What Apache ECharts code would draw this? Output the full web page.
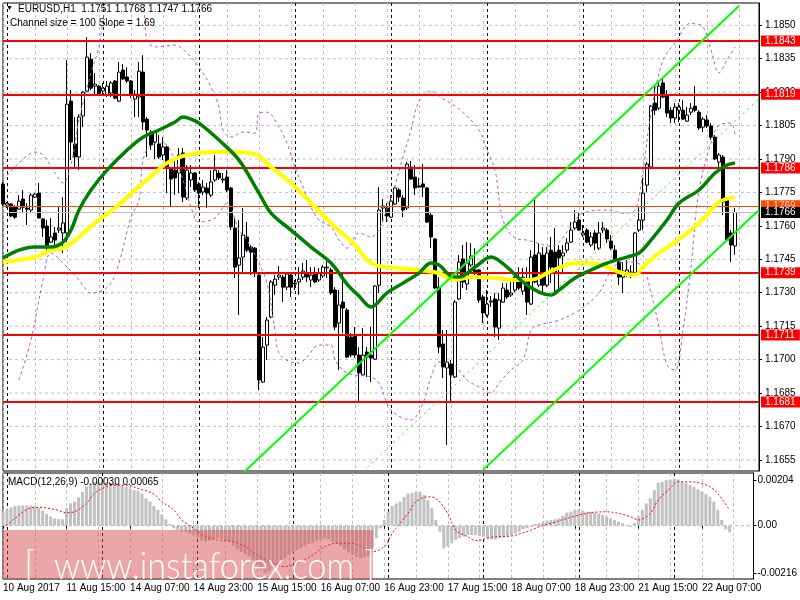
<!DOCTYPE html>
<html><head><meta charset="utf-8">
<script src="https://cdn.jsdelivr.net/npm/echarts@6/dist/echarts.min.js"></script>
<style>html,body{margin:0;padding:0;background:#fff}#c{width:800px;height:600px}</style>
</head><body><div id="c"></div>
<script>
// ---------- DATA ----------
// Hourly candles EURUSD H1, [open, close, low, high]; index 0 = 10 Aug 23:00
const candles = [
[1.17788,1.17698,1.17689,1.17797],[1.17693,1.17702,1.17680,1.17707],[1.17698,1.17644,1.17639,1.17702],[1.17684,1.17639,1.17631,1.17693],
[1.17675,1.17711,1.17671,1.17738],[1.17720,1.17684,1.17662,1.17761],[1.17680,1.17675,1.17604,1.17702],[1.17671,1.17738,1.17657,1.17747],
[1.17729,1.17743,1.17725,1.17747],[1.17747,1.17635,1.17635,1.17792],[1.17631,1.17590,1.17550,1.17635],[1.17599,1.17514,1.17491,1.17626],
[1.17527,1.17550,1.17523,1.17635],[1.17568,1.17536,1.17491,1.17595],[1.17581,1.17590,1.17568,1.17684],[1.17568,1.17613,1.17478,1.17729],
[1.17568,1.18146,1.17527,1.18344],[1.18160,1.17976,1.17895,1.18209],[1.17967,1.17909,1.17859,1.18088],[1.17909,1.18088,1.17850,1.18101],
[1.18093,1.18200,1.18043,1.18205],[1.18205,1.18357,1.18200,1.18447],[1.18348,1.18218,1.18209,1.18375],[1.18227,1.18236,1.18182,1.18286],
[1.18227,1.18187,1.18182,1.18232],[1.18205,1.18218,1.18182,1.18241],[1.18187,1.18227,1.18178,1.18250],[1.18196,1.18241,1.18178,1.18250],
[1.18250,1.18173,1.18169,1.18254],[1.18160,1.18290,1.18155,1.18335],[1.18299,1.18259,1.18254,1.18326],[1.18268,1.18250,1.18241,1.18312],
[1.18250,1.18191,1.18173,1.18254],[1.18169,1.18191,1.18088,1.18209],[1.18178,1.18294,1.18088,1.18335],[1.18290,1.18066,1.18030,1.18366],
[1.18079,1.18030,1.17909,1.18088],[1.18016,1.17963,1.17940,1.18030],[1.17976,1.18021,1.17900,1.18030],[1.17967,1.17909,1.17900,1.18007],
[1.17918,1.17954,1.17895,1.17998],[1.17954,1.17859,1.17747,1.17958],[1.17859,1.17810,1.17684,1.17864],[1.17850,1.17815,1.17738,1.17895],
[1.17837,1.17918,1.17747,1.17949],[1.17927,1.17729,1.17707,1.17949],[1.17725,1.17850,1.17716,1.17873],[1.17806,1.17837,1.17774,1.17873],
[1.17837,1.17761,1.17752,1.17841],[1.17788,1.17747,1.17680,1.17797],[1.17752,1.17774,1.17738,1.17806],[1.17770,1.17747,1.17680,1.17792],
[1.17738,1.17797,1.17729,1.17850],[1.17806,1.17850,1.17797,1.17918],[1.17837,1.17815,1.17806,1.17850],[1.17810,1.17806,1.17792,1.17837],
[1.17819,1.17761,1.17752,1.17850],[1.17770,1.17595,1.17581,1.17774],[1.17590,1.17415,1.17366,1.17635],[1.17424,1.17456,1.17200,1.17626],
[1.17460,1.17559,1.17388,1.17680],[1.17550,1.17491,1.17482,1.17617],[1.17505,1.17482,1.17379,1.17514],[1.17500,1.17388,1.17370,1.17505],
[1.17379,1.16908,1.16863,1.17388],[1.16899,1.17056,1.16895,1.17101],[1.17065,1.17177,1.16998,1.17191],[1.17191,1.17348,1.17186,1.17357],
[1.17334,1.17361,1.17290,1.17379],[1.17370,1.17379,1.17357,1.17420],[1.17370,1.17325,1.17258,1.17379],[1.17325,1.17384,1.17312,1.17388],
[1.17379,1.17325,1.17281,1.17388],[1.17343,1.17339,1.17312,1.17357],[1.17348,1.17361,1.17290,1.17415],[1.17370,1.17397,1.17357,1.17433],
[1.17388,1.17370,1.17348,1.17447],[1.17357,1.17379,1.17325,1.17415],[1.17388,1.17348,1.17343,1.17415],[1.17357,1.17388,1.17348,1.17411],
[1.17375,1.17415,1.17366,1.17424],[1.17411,1.17415,1.17366,1.17460],[1.17402,1.17299,1.17290,1.17411],[1.17312,1.17146,1.17132,1.17325],
[1.17164,1.17245,1.16953,1.17312],[1.17258,1.17231,1.17119,1.17388],[1.17222,1.17011,1.17007,1.17231],[1.17101,1.17020,1.17011,1.17119],
[1.17110,1.17020,1.17007,1.17146],[1.17020,1.16940,1.16810,1.17056],[1.16931,1.17020,1.16926,1.17141],[1.17034,1.17011,1.16922,1.17056],
[1.17020,1.17007,1.16899,1.17146],[1.17002,1.17330,1.16998,1.17334],[1.17334,1.17671,1.17299,1.17774],[1.17680,1.17689,1.17617,1.17720],
[1.17680,1.17644,1.17617,1.17702],[1.17639,1.17711,1.17635,1.17738],[1.17698,1.17770,1.17693,1.17774],[1.17761,1.17729,1.17707,1.17770],
[1.17725,1.17671,1.17639,1.17738],[1.17680,1.17877,1.17671,1.17886],[1.17864,1.17810,1.17806,1.17891],[1.17819,1.17770,1.17738,1.17873],
[1.17779,1.17774,1.17770,1.17815],[1.17788,1.17774,1.17729,1.17877],[1.17770,1.17617,1.17613,1.17774],[1.17648,1.17550,1.17500,1.17657],
[1.17541,1.17321,1.17316,1.17545],[1.17325,1.17056,1.17029,1.17370],[1.17070,1.16967,1.16917,1.17132],[1.16962,1.16989,1.16617,1.17132],
[1.16980,1.16931,1.16805,1.16998],[1.16922,1.17258,1.16917,1.17267],[1.17272,1.17438,1.17267,1.17469],[1.17451,1.17348,1.17321,1.17514],
[1.17339,1.17433,1.17312,1.17527],[1.17424,1.17465,1.17415,1.17523],[1.17402,1.17388,1.17379,1.17500],[1.17402,1.17267,1.17254,1.17406],
[1.17281,1.17209,1.17164,1.17290],[1.17200,1.17249,1.17191,1.17312],[1.17258,1.17263,1.17236,1.17285],[1.17272,1.17146,1.17101,1.17299],
[1.17141,1.17267,1.17088,1.17299],[1.17258,1.17321,1.17254,1.17343],[1.17312,1.17281,1.17272,1.17343],[1.17290,1.17299,1.17281,1.17348],
[1.17312,1.17370,1.17303,1.17393],[1.17366,1.17321,1.17312,1.17415],[1.17307,1.17370,1.17290,1.17411],[1.17357,1.17258,1.17200,1.17415],
[1.17249,1.17460,1.17245,1.17491],[1.17469,1.17348,1.17343,1.17729],[1.17334,1.17478,1.17325,1.17523],[1.17469,1.17334,1.17299,1.17505],
[1.17334,1.17478,1.17325,1.17505],[1.17491,1.17415,1.17343,1.17550],[1.17482,1.17388,1.17290,1.17590],[1.17491,1.17456,1.17312,1.17514],
[1.17465,1.17478,1.17393,1.17514],[1.17491,1.17523,1.17478,1.17545],[1.17527,1.17581,1.17523,1.17617],[1.17590,1.17617,1.17581,1.17671],
[1.17626,1.17581,1.17577,1.17657],[1.17559,1.17568,1.17550,1.17604],[1.17581,1.17527,1.17523,1.17590],[1.17514,1.17550,1.17505,1.17572],
[1.17568,1.17523,1.17491,1.17581],[1.17500,1.17568,1.17491,1.17617],[1.17581,1.17590,1.17568,1.17617],[1.17581,1.17541,1.17523,1.17590],
[1.17532,1.17500,1.17491,1.17559],[1.17491,1.17447,1.17438,1.17514],[1.17438,1.17370,1.17334,1.17456],[1.17370,1.17397,1.17299,1.17438],
[1.17379,1.17402,1.17370,1.17447],[1.17393,1.17375,1.17366,1.17424],[1.17375,1.17568,1.17370,1.17572],[1.17581,1.17626,1.17572,1.17684],
[1.17626,1.17747,1.17581,1.17815],[1.17783,1.17877,1.17752,1.17886],[1.17864,1.18137,1.17859,1.18142],[1.18151,1.18119,1.18097,1.18232],
[1.18128,1.18227,1.18119,1.18241],[1.18241,1.18178,1.18173,1.18268],[1.18187,1.18106,1.18088,1.18209],[1.18119,1.18084,1.18061,1.18133],
[1.18084,1.18133,1.18061,1.18151],[1.18119,1.18133,1.18066,1.18151],[1.18119,1.18079,1.18075,1.18164],[1.18070,1.18097,1.18066,1.18133],
[1.18110,1.18128,1.18097,1.18151],[1.18137,1.18119,1.18110,1.18227],[1.18110,1.18039,1.18030,1.18119],[1.18043,1.18079,1.18021,1.18088],
[1.18075,1.18048,1.18039,1.18097],[1.18048,1.17998,1.17985,1.18061],[1.17998,1.17900,1.17895,1.18007],[1.17886,1.17918,1.17864,1.17927],
[1.17909,1.17707,1.17648,1.17918],[1.17716,1.17536,1.17532,1.17720],[1.17568,1.17514,1.17438,1.17581],[1.1751,1.1766,1.1747,1.1768]
];
// moving averages, [barIndex, price]
const maGreen = [[0,1.17456],[4,1.17491],[8,1.17505],[12,1.17505],[15,1.17527],[17,1.17581],[19,1.17671],[22,1.17761],[26,1.17850],[31,1.17940],[35,1.17998],[39,1.18030],[43,1.18066],[45,1.18088],[47,1.18079],[49,1.18061],[54,1.17985],[59,1.17895],[64,1.17747],[67,1.17657],[72,1.17581],[77,1.17505],[82,1.17433],[86,1.17339],[89,1.17285],[92,1.17236],[96,1.17299],[100,1.17343],[104,1.17388],[107,1.17433],[109,1.17424],[112,1.17375],[114,1.17370],[118,1.17415],[122,1.17460],[126,1.17415],[130,1.17348],[134,1.17303],[137,1.17290],[139,1.17312],[143,1.17366],[147,1.17402],[151,1.17433],[156,1.17460],[159,1.17478],[162,1.17536],[166,1.17626],[169,1.17702],[174,1.17761],[178,1.17837],[181,1.17873],[183,1.17882]];
const maYellow = [[0,1.17438],[8,1.17460],[12,1.17491],[15,1.17500],[19,1.17550],[23,1.17613],[28,1.17680],[33,1.17761],[38,1.17837],[41,1.17882],[46,1.17918],[53,1.17931],[57,1.17931],[63,1.17922],[67,1.17864],[72,1.17792],[78,1.17684],[83,1.17595],[88,1.17514],[91,1.17447],[93,1.17424],[98,1.17411],[104,1.17402],[109,1.17388],[113,1.17357],[117,1.17370],[123,1.17366],[128,1.17357],[133,1.17361],[136,1.17388],[139,1.17411],[143,1.17433],[146,1.17433],[150,1.17424],[154,1.17393],[158,1.17379],[160,1.17415],[164,1.17478],[168,1.17527],[172,1.17581],[176,1.17648],[179,1.17707],[183,1.17729]];
const bandUpper = [[0,1.17806],[4,1.17882],[8,1.17931],[10,1.17918],[13,1.17837],[15,1.17792],[17,1.17873],[19,1.18075],[22,1.18286],[24,1.18403],[25,1.18524],[27,1.1867],[34,1.1867],[36,1.18434],[38,1.18403],[43,1.18411],[46,1.18375],[49,1.18312],[52,1.18223],[54,1.18133],[55,1.18030],[57,1.17998],[60,1.18021],[63,1.18016],[64,1.18106],[66,1.18110],[69,1.18043],[71,1.17971],[73,1.17864],[75,1.17774],[77,1.17684],[79,1.17626],[82,1.17595],[84,1.17536],[86,1.17500],[89,1.17568],[92,1.17550],[97,1.17729],[100,1.17909],[102,1.18030],[104,1.18160],[107,1.18205],[110,1.18170],[114,1.18125],[119,1.18030],[121,1.17940],[123,1.17850],[125,1.17626],[128,1.17545],[131,1.17536],[137,1.17509],[145,1.17657],[151,1.17671],[155,1.17657],[158,1.17671],[160,1.17850],[162,1.18106],[165,1.18344],[168,1.18420],[172,1.18510],[175,1.18492],[177,1.18389],[179,1.18286],[181,1.18344],[183,1.18403]];
const bandLower = [[4,1.16908],[7,1.17088],[10,1.17357],[12,1.17478],[16,1.17415],[19,1.17357],[22,1.17299],[24,1.17303],[27,1.17343],[29,1.17433],[32,1.17639],[34,1.17716],[35,1.17895],[37,1.17963],[40,1.17971],[43,1.17895],[45,1.17806],[47,1.17684],[49,1.17617],[53,1.17635],[56,1.17702],[59,1.17581],[61,1.17536],[64,1.17433],[66,1.17343],[68,1.17132],[69,1.17029],[72,1.16989],[74,1.16985],[76,1.17011],[79,1.17065],[82,1.17065],[83,1.16998],[86,1.16940],[92,1.16922],[94,1.16895],[97,1.16774],[102,1.16729],[105,1.16805],[107,1.16922],[109,1.16989],[112,1.16985],[116,1.16908],[119,1.16877],[122,1.16850],[124,1.16895],[127,1.16953],[130,1.16998],[132,1.17132],[134,1.17155],[139,1.17177],[144,1.17222],[149,1.17299],[152,1.17402],[154,1.17433],[157,1.17438],[160,1.17415],[162,1.17299],[164,1.17146],[166,1.16976],[168,1.16953],[170,1.17132],[172,1.17415],[174,1.17761],[177,1.17972],[179,1.18052],[182,1.18061],[183,1.18007]];
// regression channel (size 100 pips, slope 1.69): [barIndex, price] end points
const channelLower = [[120,1.16505],[189,1.17671]];
const channelMid   = [[90,1.16498],[189,1.18171]];
const channelUpper = [[60,1.16491],[184,1.18587]];
// horizontal levels
const redLevels = [1.1843, 1.1819, 1.1786, 1.1739, 1.1711, 1.1681];
const orangeLevel = 1.1769;
const bidLevel = 1.1766;
// MACD(12,26,9)
const macdHist = [0.00063,0.00074,0.00083,0.00089,0.00091,0.00092,0.00092,0.00091,0.00088,0.00080,0.00068,0.00053,0.00041,0.00033,0.00030,0.00029,
0.00079,0.00101,0.00109,0.00128,0.00153,0.00177,0.00192,0.00198,0.00199,0.00199,0.00196,0.00195,0.00192,0.00192,0.00184,0.00177,
0.00169,0.00162,0.00159,0.00146,0.00124,0.00109,0.00089,0.00071,0.00051,0.00029,0.00008,-0.00012,-0.00020,-0.00027,-0.00027,-0.00035,
-0.00042,-0.00057,-0.00068,-0.00072,-0.00068,-0.00062,-0.00057,-0.00060,-0.00065,-0.00074,-0.00092,-0.00107,-0.00118,-0.00128,-0.00140,-0.00156,
-0.00178,-0.00201,-0.00216,-0.00208,-0.00193,-0.00178,-0.00163,-0.00148,-0.00134,-0.00122,-0.00112,-0.00103,-0.00092,-0.00083,-0.00077,-0.00068,
-0.00062,-0.00057,-0.00062,-0.00072,-0.00083,-0.00092,-0.00107,-0.00122,-0.00133,-0.00143,-0.00148,-0.00143,-0.00137,-0.00103,-0.00057,-0.00012,
0.00026,0.00063,0.00089,0.00101,0.00109,0.00131,0.00146,0.00149,0.00154,0.00154,0.00139,0.00116,0.00079,0.00026,-0.00027,-0.00103,
-0.00095,-0.00080,-0.00065,-0.00057,-0.00050,-0.00042,-0.00042,-0.00042,-0.00047,-0.00050,-0.00057,-0.00062,-0.00062,-0.00057,-0.00053,-0.00050,
-0.00042,-0.00035,-0.00027,-0.00017,-0.00012,-0.00005,0.00008,0.00011,0.00018,0.00023,0.00026,0.00029,0.00033,0.00044,0.00059,0.00063,
0.00071,0.00074,0.00068,0.00063,0.00063,0.00059,0.00056,0.00048,0.00041,0.00033,0.00026,0.00018,0.00011,0.00003,-0.00005,0.00011,
0.00041,0.00071,0.00101,0.00124,0.00162,0.00195,0.00199,0.00207,0.00207,0.00214,0.00210,0.00199,0.00192,0.00184,0.00177,0.00165,
0.00154,0.00143,0.00131,0.00109,0.00071,0.00026,-0.00017,-0.00030];
const macdSignal = [[0,-0.00012],[3,0.00033],[6,0.00074],[9,0.00083],[13,0.00074],[16,0.00059],[18,0.00063],[21,0.00101],[23,0.00146],[26,0.00177],[28,0.00184],[31,0.00184],[34,0.00169],[38,0.00143],[40,0.00109],[43,0.00071],[45,0.00026],[48,-0.00012],[51,-0.00050],[54,-0.00065],[58,-0.00072],[61,-0.00095],[64,-0.00133],[68,-0.00171],[71,-0.00186],[74,-0.00171],[78,-0.00133],[81,-0.00095],[84,-0.00080],[88,-0.00080],[91,-0.00103],[93,-0.00118],[96,-0.00095],[98,-0.00035],[99,-0.00012],[102,0.00056],[104,0.00109],[107,0.00131],[109,0.00124],[112,0.00056],[114,-0.00020],[117,-0.00050],[119,-0.00068],[122,-0.00057],[124,-0.00050],[128,-0.00047],[130,-0.00038],[133,-0.00020],[135,-0.00005],[138,0.00011],[142,0.00033],[145,0.00048],[148,0.00059],[152,0.00063],[155,0.00056],[158,0.00041],[160,0.00026],[163,0.00056],[165,0.00116],[168,0.00169],[170,0.00199],[173,0.00199],[175,0.00195],[178,0.00177],[180,0.00146],[183,0.00070]];
// axes
const priceTicks = [1.1655,1.1670,1.1685,1.1700,1.1715,1.1730,1.1745,1.1760,1.1775,1.1790,1.1805,1.1820,1.1835,1.1850];
const macdTicks = [0.00204, 0, -0.00216];
const macdZero = [0];
const timeLabelIdx = [0,16,32,48,64,80,96,112,128,144,160,176];
const timeLabelText = ['10 Aug 2017','11 Aug 15:00','14 Aug 07:00','14 Aug 23:00','15 Aug 15:00','16 Aug 07:00','16 Aug 23:00','17 Aug 15:00','18 Aug 07:00','18 Aug 23:00','21 Aug 15:00','22 Aug 07:00'];
const daySeparatorIdx = [1,25,49,73,97,121,145,169];

// ---------- CHART ----------
const NCAT = 190;
const cats = Array.from({length: NCAT}, (_, i) => String(i));
const labMap = {}; timeLabelIdx.forEach((k, j) => labMap[k] = timeLabelText[j]);
const labIntv = (i) => labMap[i] !== undefined;
const gridIntv = (i) => i % 8 === 0;
const dayIntv = (i) => daySeparatorIdx.indexOf(i) >= 0;
const FONT = 'Liberation Sans';
const dash = [3, 3];

function catAxis(grid, extra) {
  return Object.assign({
    type: 'category', gridIndex: grid, data: cats, boundaryGap: false,
    axisLine: {show: false}, axisTick: {show: false}, axisLabel: {show: false},
    splitLine: {show: true, interval: gridIntv, lineStyle: {color: '#c0c0c0', type: dash, width: 1}}
  }, extra || {});
}
function levelSeries(value, lineColor, lineWidth, bg, fg, z) {
  return {
    type: 'line', xAxisIndex: 0, yAxisIndex: 0, data: [], z: z, silent: true,
    markLine: {
      silent: true, symbol: ['none', 'none'], animation: false, precision: 6,
      lineStyle: {color: lineColor, width: lineWidth, type: 'solid'},
      label: {show: true, position: 'end', distance: 2, formatter: (p) => Number(p.value).toFixed(4),
        backgroundColor: bg, color: fg, fontFamily: FONT, fontSize: 10, padding: [1, 5, 0, 4], lineHeight: 10},
      data: (Array.isArray(value) ? value : [value]).map(v => ({yAxis: v}))
    }
  };
}
// horizontal dashed grid lines: plain line series across the full category range
function hGridLines(values, xIdx, yIdx, color) {
  return values.map(v => ({
    type: 'line', xAxisIndex: xIdx, yAxisIndex: yIdx, z: 2, silent: true, symbol: 'none',
    data: [[0, v], [NCAT - 1, v]],
    lineStyle: {color: color, width: 1, type: dash}
  }));
}
const lineBase = {type: 'line', xAxisIndex: 0, yAxisIndex: 0, symbol: 'none', silent: true, clip: true};

const option = {
  animation: false,
  backgroundColor: '#ffffff',
  textStyle: {fontFamily: FONT},
  grid: [
    {left: 3, top: 3, width: 756, height: 468, show: true, borderColor: '#000', borderWidth: 1, backgroundColor: '#fff'},
    {left: 3, top: 473, width: 756, height: 106, show: true, borderColor: '#000', borderWidth: 1, backgroundColor: '#fff'}
  ],
  xAxis: [
    catAxis(0),
    catAxis(1, {
      axisTick: {show: true, interval: labIntv, length: 3, lineStyle: {color: '#000'}},
      axisLabel: {show: true, interval: labIntv, formatter: (v, i) => labMap[i] || '', align: 'left',
        fontFamily: FONT, fontSize: 10, color: '#000', margin: 4}
    }),
    catAxis(0, {splitLine: {show: true, interval: dayIntv, lineStyle: {color: '#000', type: dash, width: 1}}}),
    catAxis(1, {splitLine: {show: true, interval: dayIntv, lineStyle: {color: '#000', type: dash, width: 1}}})
  ],
  yAxis: [
    {type: 'value', gridIndex: 0, position: 'right', min: 1.1650, max: 1.1860,
      axisLine: {show: true, lineStyle: {color: '#000'}},
      axisTick: {show: true, customValues: priceTicks, length: 3, lineStyle: {color: '#000'}},
      axisLabel: {show: true, customValues: priceTicks, formatter: v => v.toFixed(4), fontFamily: FONT, fontSize: 10, color: '#000', margin: 6},
      splitLine: {show: false}},
    {type: 'value', gridIndex: 1, position: 'right', min: -0.00242, max: 0.00239,
      axisLine: {show: true, lineStyle: {color: '#000'}},
      axisTick: {show: true, customValues: macdTicks, length: 3, lineStyle: {color: '#000'}},
      axisLabel: {show: true, customValues: macdTicks, formatter: v => (Math.abs(v) < 1e-9 ? '0.00' : v.toFixed(5)), fontFamily: FONT, fontSize: 10, color: '#000', margin: 4},
      splitLine: {show: false}}
  ],
  series: [].concat(
    hGridLines(priceTicks, 0, 0, '#c0c0c0'),
    hGridLines(macdZero, 1, 1, '#b0b0b0'),
    [
    {type: 'candlestick', xAxisIndex: 0, yAxisIndex: 0, data: candles, barWidth: 3, z: 3, silent: true,
      itemStyle: {color: '#ffffff', color0: '#000000', borderColor: '#000000', borderColor0: '#000000', borderWidth: 1}},
    Object.assign({}, lineBase, {data: bandUpper, smooth: 0.35, z: 4, lineStyle: {color: '#b455d8', width: 1, type: [3, 3]}}),
    Object.assign({}, lineBase, {data: bandLower, smooth: 0.35, z: 4, lineStyle: {color: '#b455d8', width: 1, type: [3, 3]}}),
    Object.assign({}, lineBase, {data: maYellow, smooth: 0.35, z: 5, lineStyle: {color: '#ffff00', width: 4}}),
    Object.assign({}, lineBase, {data: maGreen, smooth: 0.35, z: 6, lineStyle: {color: '#008000', width: 3.5}}),
    Object.assign({}, lineBase, {data: channelUpper, z: 7, lineStyle: {color: '#00ff00', width: 2}}),
    Object.assign({}, lineBase, {data: channelLower, z: 7, lineStyle: {color: '#00ff00', width: 2}}),
    Object.assign({}, lineBase, {data: channelMid, z: 7, lineStyle: {color: '#00ff00', width: 1, type: [2, 4]}}),
    levelSeries(redLevels, '#ff0000', 2, '#ff0000', '#ffffff', 8),
    levelSeries(orangeLevel, '#ff4500', 1, '#ff4500', '#ffd0c0', 9),
    levelSeries(bidLevel, '#c0c0c0', 1, '#000000', '#ffffff', 10),
    {type: 'bar', xAxisIndex: 1, yAxisIndex: 1, data: macdHist, barWidth: 3, z: 3, silent: true, itemStyle: {color: '#c0c0c0'}},
    {type: 'line', xAxisIndex: 1, yAxisIndex: 1, data: macdSignal, smooth: 0.35, symbol: 'none', z: 4, silent: true,
      lineStyle: {color: '#ff0000', width: 1, type: [2, 2]}}
    ]),
  graphic: [
    {type: 'text', left: 6, top: 5, z: 100, style: {text: '\u25BC', fill: '#000', font: '7px ' + FONT}},
    {type: 'text', left: 18, top: 4, z: 100, style: {text: 'EURUSD,H1  1.1751 1.1768 1.1747 1.1766', fill: '#000', font: '10px ' + FONT}},
    {type: 'text', left: 10, top: 18, z: 100, style: {text: 'Channel size = 100 Slope = 1.69', fill: '#000', font: '10px ' + FONT}},
    {type: 'text', left: 8, top: 477, z: 100, style: {text: 'MACD(12,26,9) -0.00030 0.00065', fill: '#000', font: '10px ' + FONT}},
    {type: 'rect', z: 90, shape: {x: 3, y: 530, width: 370, height: 49}, style: {fill: 'rgba(215,80,80,0.5)'}},
    {type: 'text', left: 24, top: 546, z: 95, style: {text: '[', fill: '#ffffff', font: '300 38px Lato'}},
    {type: 'text', x: 54, y: 548, scaleX: 0.9, z: 95, style: {text: 'www.instaforex.com', fill: '#ffffff', font: '300 38px Lato'}},
    {type: 'text', left: 364, top: 546, z: 95, style: {text: ']', fill: '#ffffff', font: '300 38px Lato'}}
  ]
};
const chart = echarts.init(document.getElementById('c'), null, {renderer: 'canvas'});
chart.setOption(option);
</script>
</body></html>
